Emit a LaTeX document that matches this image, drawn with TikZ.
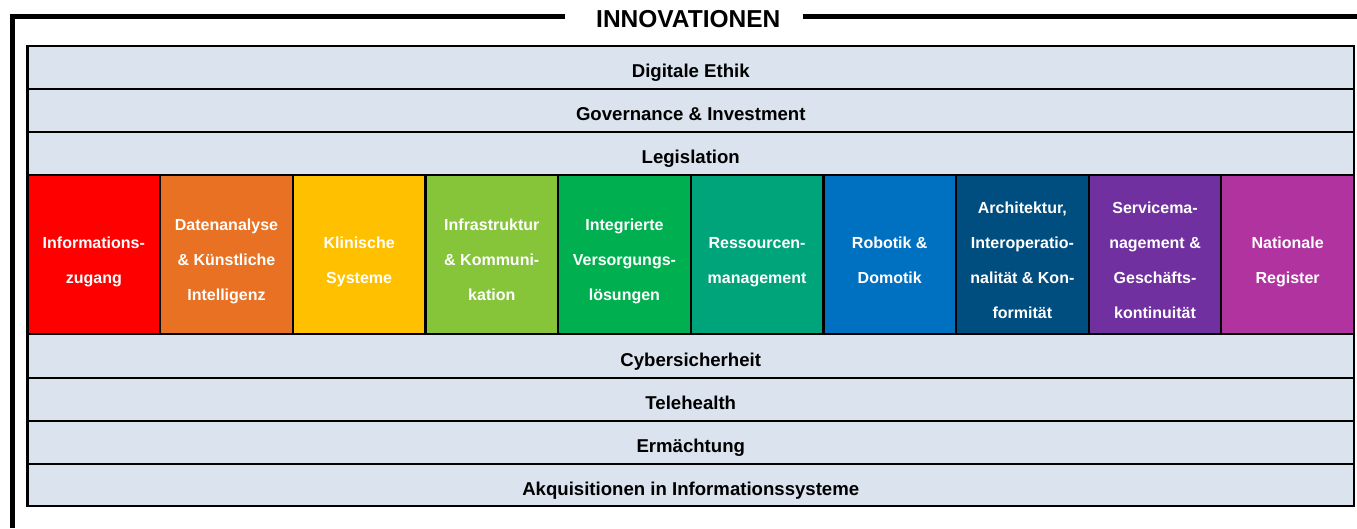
\documentclass[tikz,border=0pt]{standalone}
\usepackage{fontspec}
\setmainfont{Liberation Sans}
\definecolor{rowbg}{RGB}{218,227,238}
\definecolor{cRed}{RGB}{255,0,0}
\definecolor{cOrange}{RGB}{233,113,35}
\definecolor{cYellow}{RGB}{255,192,0}
\definecolor{cLime}{RGB}{134,196,58}
\definecolor{cGreen}{RGB}{0,176,80}
\definecolor{cTeal}{RGB}{0,164,122}
\definecolor{cBlue}{RGB}{0,112,192}
\definecolor{cNavy}{RGB}{0,78,128}
\definecolor{cPurple}{RGB}{112,48,160}
\definecolor{cMagenta}{RGB}{176,51,160}
\tikzset{
  rowbox/.style={draw=black, line width=2.2pt, fill=rowbg, minimum width=1326.5pt, inner sep=0pt, outer sep=0pt},
  rowtext/.style={anchor=base, inner sep=0pt, font=\fontsize{18.6}{22}\selectfont\bfseries, text=black},
  colbox/.style={draw=black, line width=2.2pt, minimum width=132.65pt, minimum height=159pt, inner sep=0pt, outer sep=0pt},
  coltext/.style={inner sep=0pt, align=center, text=white, font=\fontsize{16}{35}\selectfont\bfseries},
  frame/.style={line width=4.5pt, line join=miter, draw=black}
}
\begin{document}
\begin{tikzpicture}[x=1pt,y=-1pt]
\useasboundingbox (0,0) rectangle (1357,528);
% outer frame
\coordinate (fa) at (1357,16.5);
\coordinate (fb) at (12.5,16.5);
\coordinate (fc) at (12.5,528);
\coordinate (gl) at (565,16.5);
\coordinate (gr) at (803,16.5);
\draw[frame] (gl) -- (fb) -- (fc);
\draw[frame] (gr) -- (fa);
\node[anchor=base, inner sep=0pt, font=\fontsize{24.5}{29}\selectfont\bfseries] (title) at (688.3,27.5) {INNOVATIONEN};
% rows
\node[rowbox, minimum height=43pt] (r1) at (690.75,67.5) {};
\node[rowbox, minimum height=43pt] (r2) at (690.75,110.5) {};
\node[rowbox, minimum height=43pt] (r3) at (690.75,153.5) {};
\node[rowbox, minimum height=44pt] (r4) at (690.75,356) {};
\node[rowbox, minimum height=43pt] (r5) at (690.75,399.5) {};
\node[rowbox, minimum height=43pt] (r6) at (690.75,442.5) {};
\node[rowbox, minimum height=42pt] (r7) at (690.75,485) {};
\node[rowtext] (t1) at (690.75,77.5) {Digitale Ethik};
\node[rowtext] (t2) at (690.75,120.5) {Governance \& Investment};
\node[rowtext] (t3) at (690.75,163.5) {Legislation};
\node[rowtext] (t4) at (690.75,366) {Cybersicherheit};
\node[rowtext] (t5) at (690.75,409.5) {Telehealth};
\node[rowtext] (t6) at (690.75,452.5) {Ermächtung};
\node[rowtext] (t7) at (690.75,495) {Akquisitionen in Informationssysteme};
% coloured columns
\node[colbox, fill=cRed]     (c1)  at (93.825,254.5) {};
\node[colbox, fill=cOrange]  (c2)  at (226.475,254.5) {};
\node[colbox, fill=cYellow]  (c3)  at (359.125,254.5) {};
\node[colbox, fill=cLime]    (c4)  at (491.775,254.5) {};
\node[colbox, fill=cGreen]   (c5)  at (624.425,254.5) {};
\node[colbox, fill=cTeal]    (c6)  at (757.075,254.5) {};
\node[colbox, fill=cBlue]    (c7)  at (889.725,254.5) {};
\node[colbox, fill=cNavy]    (c8)  at (1022.375,254.5) {};
\node[colbox, fill=cPurple]  (c9)  at (1155.025,254.5) {};
\node[colbox, fill=cMagenta] (c10) at (1287.675,254.5) {};
\node[coltext] (l1)  at (93.825,258.7)  {\strut Informations-\\\strut zugang};
\node[coltext] (l2)  at (226.475,258.7) {\strut Datenanalyse\\\strut \& Künstliche\\\strut Intelligenz};
\node[coltext] (l3)  at (359.125,258.7) {\strut Klinische\\\strut Systeme};
\node[coltext] (l4)  at (491.775,258.7) {\strut Infrastruktur\\\strut \& Kommuni-\\\strut kation};
\node[coltext] (l5)  at (624.425,258.7) {\strut Integrierte\\\strut Versorgungs-\\\strut lösungen};
\node[coltext] (l6)  at (757.075,258.7) {\strut Ressourcen-\\\strut management};
\node[coltext] (l7)  at (889.725,258.7) {\strut Robotik \&\\\strut Domotik};
\node[coltext] (l8)  at (1022.375,258.7) {\strut Architektur,\\\strut Interoperatio-\\\strut nalität \& Kon-\\\strut formität};
\node[coltext] (l9)  at (1155.025,258.7) {\strut Servicema-\\\strut nagement \&\\\strut Geschäfts-\\\strut kontinuität};
\node[coltext] (l10) at (1287.675,258.7) {\strut Nationale\\\strut Register};
\end{tikzpicture}
\end{document}
